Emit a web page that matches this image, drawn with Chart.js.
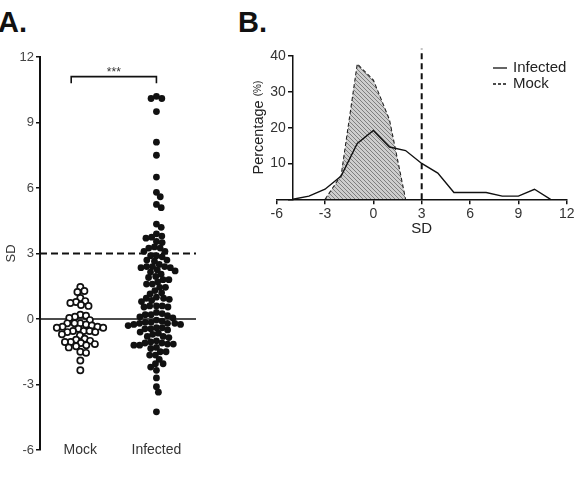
<!DOCTYPE html>
<html>
<head>
<meta charset="utf-8">
<script src="https://cdn.jsdelivr.net/npm/chart.js@4"></script>
<style>
  body { margin: 0; background: #fff; width: 578px; height: 493px; position: relative; overflow: hidden;
         font-family: "Liberation Sans", Arial, sans-serif; }
  .panel { position: absolute; font-weight: bold; font-size: 29px; color: #111; }
  #chartA { position: absolute; left: 0; top: 0; }
  #chartB { position: absolute; left: 220px; top: 0; }
</style>
</head>
<body>
<div class="panel" style="left:-2px; top:6px">A.</div>
<div class="panel" style="left:238px; top:6px">B.</div>
<canvas id="chartA" width="215" height="493"></canvas>
<canvas id="chartB" width="358" height="250"></canvas>
<script>
// panel A: SD values per sample
const groups = ["Mock", "Infected"];
const mockSD = [1.47, 1.28, 1.24, 0.96, 0.82, 0.78, 0.73, 0.64, 0.6, 0.2, 0.15, 0.1, 0.05, -0.05,
  -0.2, -0.2, -0.2, -0.25, -0.3, -0.35, -0.35, -0.4, -0.4, -0.45, -0.55, -0.55, -0.55, -0.6, -0.6,
  -0.7, -0.75, -0.9, -0.95, -1.0, -1.05, -1.05, -1.1, -1.15, -1.2, -1.25, -1.3, -1.5, -1.55, -1.9, -2.35];
const infectedSD = [10.2, 10.1, 10.1, 9.5, 8.1, 7.5, 6.5, 5.8, 5.6, 5.25, 5.1, 4.35, 4.2,
  3.9, 3.8, 3.75, 3.7, 3.55, 3.5, 3.3, 3.25, 3.25, 3.1, 3.1,
  2.9, 2.9, 2.85, 2.7, 2.7, 2.65, 2.5, 2.4, 2.4, 2.4, 2.35, 2.35, 2.25, 2.2, 2.15, 2.05,
  1.95, 1.9, 1.8, 1.8, 1.7, 1.6, 1.6, 1.45, 1.45, 1.3, 1.2, 1.15, 1.0,
  0.95, 0.95, 0.9, 0.85, 0.8, 0.6, 0.6, 0.6, 0.55, 0.55, 0.3, 0.25, 0.2, 0.2, 0.15, 0.1, 0.05,
  -0.05, -0.1, -0.15, -0.15, -0.2, -0.2, -0.2, -0.25, -0.25, -0.3, -0.4, -0.4, -0.45, -0.45, -0.5,
  -0.6, -0.65, -0.7, -0.8, -0.8, -0.85, -1.0, -1.05, -1.1, -1.1, -1.15, -1.15, -1.2, -1.2, -1.3,
  -1.35, -1.5, -1.5, -1.65, -1.65, -1.85, -2.05, -2.05, -2.2, -2.35, -2.7, -3.1, -3.35, -4.25];
const cutoff = 3;
const bracketY = 11.1;
const sdTicksA = [-6, -3, 0, 3, 6, 9, 12];

// panel B: percentage of samples per SD bin
const infectedBins = [-5, -4, -3, -2, -1, 0, 1, 2, 3, 4, 5, 6, 7, 8, 9, 10, 11];
const infectedPct = [0, 0.9, 2.8, 6.5, 15.6, 19.2, 14.6, 13.6, 10, 7.3, 1.9, 1.9, 1.9, 0.9, 0.9, 2.8, 0];
const mockBins = [-3, -2, -1, 0, 1, 2];
const mockPct = [0, 6.7, 37.8, 33.3, 22.2, 0];
const cutoffTop = 42;

const FONT = "'Liberation Sans', Arial, sans-serif";
Chart.defaults.font.family = FONT;

const xMinA = -0.53, xMaxA = 1.52;

// simple beeswarm: spread points sideways so they don't overlap too much
function swarm(values, center, xs, ys, diam) {
  const placed = [];
  const pxPerUnit = xs.getPixelForValue(1) - xs.getPixelForValue(0);
  const order = values.map((v, i) => i).sort((a, b) => values[b] - values[a]);
  order.forEach(i => {
    const py = ys.getPixelForValue(values[i]);
    const cands = [0];
    placed.forEach(p => {
      const dy = py - p.py;
      if (Math.abs(dy) < diam) {
        const dx = Math.sqrt(diam * diam - dy * dy);
        cands.push(p.dx + dx, p.dx - dx);
      }
    });
    cands.sort((a, b) => Math.abs(a) - Math.abs(b));
    const dx = cands.find(c => placed.every(p =>
      (p.dx - c) * (p.dx - c) + (p.py - py) * (p.py - py) >= diam * diam - 0.01));
    placed.push({ dx: dx, py: py, v: values[i] });
  });
  return placed.map(p => ({ x: center + p.dx / pxPerUnit, y: p.v }));
}

const starsPlugin = {
  id: "stars",
  afterDatasetsDraw(chart) {
    const { ctx, scales } = chart;
    ctx.save();
    ctx.fillStyle = "#333";
    ctx.font = "12px " + FONT;
    ctx.textAlign = "center";
    ctx.textBaseline = "alphabetic";
    const x = (scales.x.getPixelForValue(-0.12) + scales.x.getPixelForValue(1)) / 2;
    ctx.fillText("***", x, scales.y.getPixelForValue(bracketY) - 1);
    ctx.restore();
  }
};

const chartA = new Chart(document.getElementById("chartA"), {
  type: "scatter",
  data: {
    datasets: [
      { label: "Mock", data: [], pointRadius: 3.1, pointBorderWidth: 1.7,
        borderColor: "#111", backgroundColor: "#fff", order: 0 },
      { label: "Infected", data: [], pointRadius: 3.4, pointBorderWidth: 0,
        borderColor: "#111", backgroundColor: "#111", order: 0 },
      { type: "line", label: "zero", data: [{ x: xMinA, y: 0 }, { x: xMaxA, y: 0 }],
        borderColor: "#111", borderWidth: 1.5, pointRadius: 0, order: 2 },
      { type: "line", label: "cutoff", data: [{ x: xMinA, y: cutoff }, { x: xMaxA, y: cutoff }],
        borderColor: "#111", borderWidth: 2, borderDash: [7, 4], pointRadius: 0, order: 2 },
      { type: "line", label: "bracket",
        data: [{ x: -0.12, y: bracketY - 0.3 }, { x: -0.12, y: bracketY }, { x: 1, y: bracketY }, { x: 1, y: bracketY - 0.3 }],
        borderColor: "#111", borderWidth: 1.6, pointRadius: 0, order: 2 }
    ]
  },
  options: {
    responsive: false,
    animation: false,
    layout: { padding: { top: 57, right: 19, left: 0, bottom: 43 } },
    plugins: { legend: { display: false }, tooltip: { enabled: false } },
    scales: {
      x: {
        type: "linear", min: xMinA, max: xMaxA, position: { y: -6 },
        afterBuildTicks: s => { s.ticks = groups.map((g, i) => ({ value: i })); },
        ticks: { callback: v => groups[v], color: "#333", font: { size: 14 }, padding: -8, maxRotation: 0 },
        grid: { display: false, drawTicks: false },
        border: { display: false }
      },
      y: {
        min: -6, max: 12,
        afterBuildTicks: s => { s.ticks = sdTicksA.map(v => ({ value: v })); },
        afterFit: s => { s.width = 40; },
        ticks: { color: "#444", font: { size: 13 }, padding: 2 },
        grid: { drawOnChartArea: false, drawTicks: true, tickLength: 4, color: "#111", lineWidth: 1.5 },
        border: { color: "#111", width: 2 },
        title: { display: true, text: "SD", color: "#333", font: { size: 13 }, padding: { top: 4, bottom: 0 } }
      }
    }
  },
  plugins: [starsPlugin]
});

chartA.data.datasets[0].data = swarm(mockSD, 0, chartA.scales.x, chartA.scales.y, 5.8);
chartA.data.datasets[1].data = swarm(infectedSD, 1, chartA.scales.x, chartA.scales.y, 5.8);
chartA.update();

// hatch pattern for the mock area
function hatch() {
  const c = document.createElement("canvas");
  c.width = 4; c.height = 4;
  const g = c.getContext("2d");
  g.fillStyle = "#cdcdcd";
  g.fillRect(0, 0, 4, 4);
  g.strokeStyle = "#7e7e7e";
  g.lineWidth = 1;
  g.beginPath();
  g.moveTo(-1, -1); g.lineTo(5, 5);
  g.moveTo(-1, 3); g.lineTo(1, 5);
  g.moveTo(3, -1); g.lineTo(5, 1);
  g.stroke();
  return g.createPattern(c, "repeat");
}

const extrasB = {
  id: "extrasB",
  afterDraw(chart) {
    const { ctx, scales } = chart;
    ctx.save();
    // y title
    const cy = (scales.y.getPixelForValue(0) + scales.y.getPixelForValue(40)) / 2;
    ctx.translate(39, cy);
    ctx.rotate(-Math.PI / 2);
    ctx.fillStyle = "#222";
    ctx.textBaseline = "middle";
    ctx.font = "14.5px " + FONT;
    const w1 = ctx.measureText("Percentage").width;
    ctx.font = "10px " + FONT;
    const w2 = ctx.measureText("(%)").width;
    const start = -(w1 + 4 + w2) / 2;
    ctx.font = "14.5px " + FONT;
    ctx.textAlign = "left";
    ctx.fillText("Percentage", start, 0);
    ctx.font = "10px " + FONT;
    ctx.fillText("(%)", start + w1 + 4, -1);
    ctx.restore();

    // legend
    ctx.save();
    ctx.font = "15px " + FONT;
    ctx.fillStyle = "#222";
    ctx.textBaseline = "middle";
    const items = [{ text: "Infected", dash: [], y: 68 }, { text: "Mock", dash: [3, 2], y: 84 }];
    items.forEach(it => {
      ctx.strokeStyle = "#111";
      ctx.lineWidth = 1.3;
      ctx.setLineDash(it.dash);
      ctx.beginPath();
      ctx.moveTo(273, it.y);
      ctx.lineTo(287, it.y);
      ctx.stroke();
      ctx.fillText(it.text, 293, it.y);
    });
    ctx.restore();
  }
};

new Chart(document.getElementById("chartB"), {
  type: "line",
  data: {
    datasets: [
      { label: "Infected", data: infectedBins.map((x, i) => ({ x: x, y: infectedPct[i] })),
        borderColor: "#111", borderWidth: 1.4, pointRadius: 0, fill: false, order: 0 },
      { label: "Mock", data: mockBins.map((x, i) => ({ x: x, y: mockPct[i] })),
        borderColor: "#222", borderWidth: 1.1, borderDash: [4, 2.5], backgroundColor: hatch(),
        fill: "origin", pointRadius: 0, order: 1 },
      { label: "cutoff", data: [{ x: cutoff, y: 0 }, { x: cutoff, y: cutoffTop }],
        borderColor: "#111", borderWidth: 2, borderDash: [6, 4], pointRadius: 0, clip: false, order: 2 }
    ]
  },
  options: {
    responsive: false,
    animation: false,
    layout: { padding: { left: 56.7, top: 56, right: 11.3, bottom: 0 } },
    plugins: { legend: { display: false }, tooltip: { enabled: false } },
    scales: {
      x: {
        type: "linear", min: -6, max: 12,
        afterFit: s => { s.height = 50.7; },
        ticks: { stepSize: 3, color: "#333", font: { size: 14 }, padding: 1, maxRotation: 0 },
        grid: { drawOnChartArea: false, drawTicks: true, tickLength: 5, color: "#111", lineWidth: 1.5 },
        border: { color: "#111", width: 1.5 },
        title: { display: true, text: "SD", color: "#222", font: { size: 15 }, padding: { top: 0, bottom: 12 } }
      },
      y: {
        min: 0, max: 40, position: { x: -5 },
        ticks: { stepSize: 10, color: "#333", font: { size: 14 }, callback: v => v === 0 ? "" : v + "\u2002" },
        grid: { drawOnChartArea: false, drawTicks: true, tickLength: 4, color: "#111", lineWidth: 1.5 },
        border: { color: "#111", width: 1.5 }
      }
    }
  },
  plugins: [extrasB]
});
</script>
</body>
</html>
